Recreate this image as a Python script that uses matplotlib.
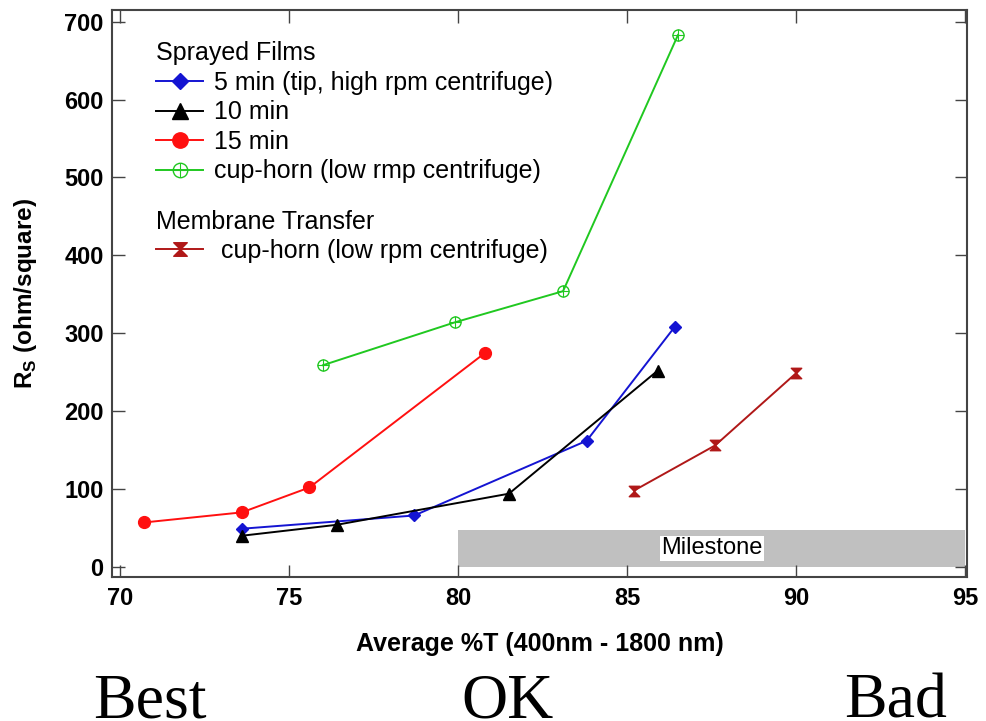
import matplotlib
matplotlib.use("Agg")
import matplotlib.pyplot as plt
from matplotlib.path import Path
from matplotlib.legend_handler import HandlerTuple

# Sprayed films: average transmittance (%) vs sheet resistance (ohm/sq)
t_5min = [73.6, 78.7, 83.8, 86.4]
rs_5min = [49, 66, 162, 308]

t_10min = [73.6, 76.4, 81.5, 85.9]
rs_10min = [40, 54, 94, 252]

t_15min = [70.7, 73.6, 75.6, 80.8]
rs_15min = [57, 70, 102, 275]

t_cup = [76.0, 79.9, 83.1, 86.5]
rs_cup = [259, 314, 354, 683]

# Membrane transfer
t_mem = [85.2, 87.6, 90.0]
rs_mem = [98, 156, 249]

# Target region
milestone_t = [80, 95]
milestone_rs = 48

xticks = [70, 75, 80, 85, 90, 95]
yticks = [0, 100, 200, 300, 400, 500, 600, 700]
quality_labels = ["Best", "OK", "Bad"]
quality_x = [150, 507, 896]

c_blue = "#1414d2"
c_black = "#000000"
c_red = "#ff1010"
c_green = "#20c820"
c_dred = "#b01818"

SANS = "Liberation Sans"

hourglass = Path([(-1, 1), (1, 1), (0, 0), (1, -1), (-1, -1), (0, 0), (-1, 1)],
                 [Path.MOVETO, Path.LINETO, Path.LINETO, Path.LINETO,
                  Path.LINETO, Path.LINETO, Path.CLOSEPOLY])

fig = plt.figure(figsize=(9.87, 7.21), dpi=100)
ax = fig.add_axes([0.1135, 0.1997, 0.8663, 0.7864])

ax.fill_between(milestone_t, 0, milestone_rs, color="#c0c0c0", lw=0, zorder=1)
ax.text(87.5, milestone_rs / 2, "Milestone", ha="center", va="center",
        fontsize=17, family=SANS,
        bbox=dict(facecolor="white", edgecolor="none", pad=1.0), zorder=2)

lw = 1.4
h_blue, = ax.plot(t_5min, rs_5min, color=c_blue, lw=lw, marker="D", ms=6,
                  mfc=c_blue, mec=c_blue, zorder=3)
h_black, = ax.plot(t_10min, rs_10min, color=c_black, lw=lw, marker="^", ms=8.5,
                   zorder=3)
h_red, = ax.plot(t_15min, rs_15min, color=c_red, lw=lw, marker="o", ms=8.5,
                 zorder=3)
h_green, = ax.plot(t_cup, rs_cup, color=c_green, lw=lw, marker="o", ms=8,
                   mfc="none", mec=c_green, mew=1.0, zorder=3)
h_green_plus, = ax.plot(t_cup, rs_cup, ls="none", marker="+", ms=8,
                        mec=c_green, mew=0.8, zorder=3)
h_dred, = ax.plot(t_mem, rs_mem, color=c_dred, lw=lw, marker=hourglass, ms=7.5,
                  mfc=c_dred, mec=c_dred, zorder=3)

ax.set_xlim(69.76, 95.05)
ax.set_ylim(-13, 715)
ax.set_xticks(xticks)
ax.set_yticks(yticks)
ax.tick_params(direction="in", length=9, width=1.0, top=True, right=True,
               labelsize=17, color="#444444")
ax.tick_params(axis="x", pad=7)
ax.tick_params(axis="y", pad=6)
for lbl in ax.get_xticklabels() + ax.get_yticklabels():
    lbl.set_fontweight("bold")
    lbl.set_family(SANS)
for sp in ax.spines.values():
    sp.set_linewidth(1.5)
    sp.set_color("#444444")

ax.set_xlabel("Average %T (400nm - 1800 nm)", fontsize=18, fontweight="bold",
              family=SANS, labelpad=16)
ax.set_ylabel("R$_\\mathregular{S}$ (ohm/square)", fontsize=17.5, fontweight="bold",
              family=SANS, labelpad=18)

leg_font = dict(family=SANS, size=18)
leg1 = ax.legend([h_blue, h_black, h_red, (h_green, h_green_plus)],
                 ["5 min (tip, high rpm centrifuge)", "10 min", "15 min",
                  "cup-horn (low rmp centrifuge)"],
                 handler_map={tuple: HandlerTuple(ndivide=1, pad=0)},
                 title="Sprayed Films", title_fontproperties=leg_font,
                 alignment="left", prop=leg_font, frameon=False,
                 loc="upper left", bbox_to_anchor=(0.0515, 0.9445),
                 handlelength=1.88, labelspacing=0.22, handletextpad=0.44,
                 borderpad=0, borderaxespad=0, markerscale=1.3)
ax.add_artist(leg1)
ax.legend([h_dred], [" cup-horn (low rpm centrifuge)"],
          title="Membrane Transfer", title_fontproperties=leg_font,
          alignment="left", prop=leg_font, frameon=False,
          loc="upper left", bbox_to_anchor=(0.0515, 0.648),
          handlelength=1.88, labelspacing=0.22, handletextpad=0.44,
          borderpad=0, borderaxespad=0, markerscale=1.3)

for x, s in zip(quality_x, quality_labels):
    fig.text(x / 987, 1 - 717 / 721, s, ha="center", va="baseline",
             fontsize=46, family="Liberation Serif")

fig.savefig("out.png", dpi=100)
